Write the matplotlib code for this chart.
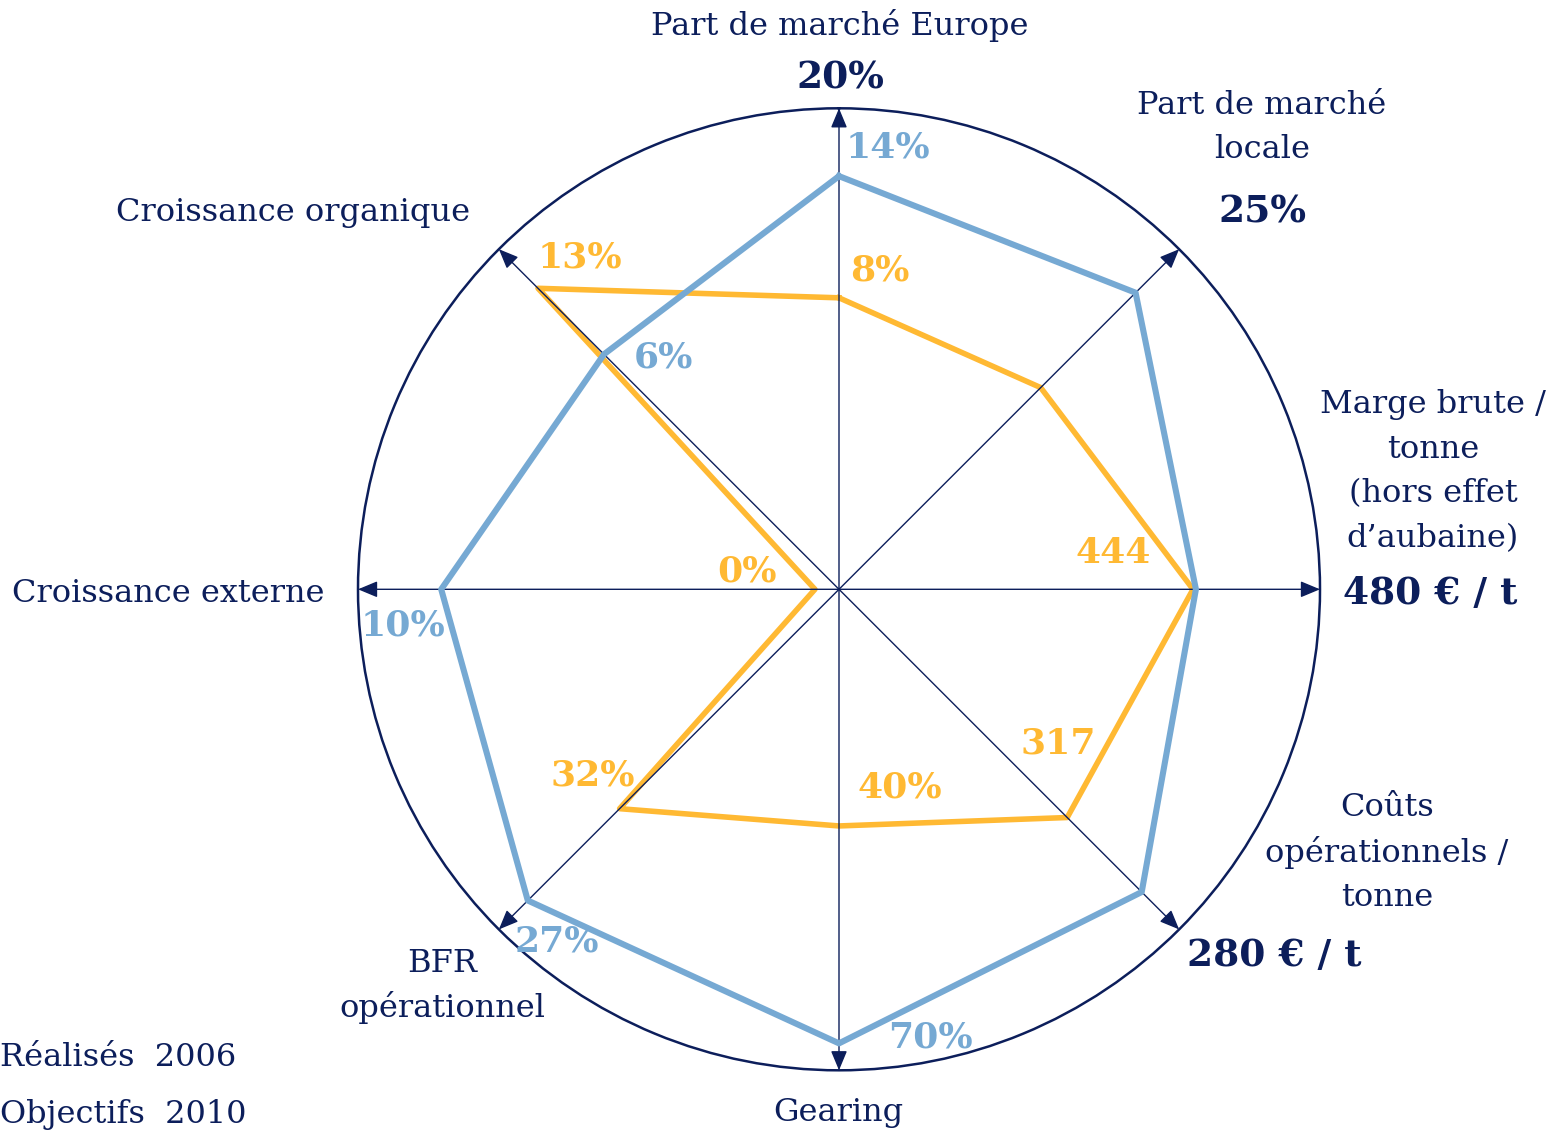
import numpy as np
import matplotlib.pyplot as plt

# axes of the radar, clockwise from the top
categories = ["Part de marché Europe", "Part de marché\nlocale",
              "Marge brute /\ntonne\n(hors effet\nd’aubaine)",
              "Coûts\nopérationnels /\ntonne", "Gearing",
              "BFR\nopérationnel", "Croissance externe", "Croissance organique"]
targets = ["20%", "25%", "480 € / t", "280 € / t", "", "", "", ""]

# position on each axis (0 = centre, 1 = outer circle)
objectifs_2010 = [0.859, 0.872, 0.742, 0.890, 0.944, 0.915, 0.827, 0.691]
realises_2006 = [0.606, 0.593, 0.736, 0.671, 0.492, 0.645, 0.050, 0.885]

objectifs_labels = ["14%", "", "", "", "70%", "27%", "10%", "6%"]
realises_labels = ["8%", "", "444", "317", "40%", "32%", "0%", "13%"]

NAVY = "#0c1e5b"
BLUE = "#76a9d3"
ORANGE = "#ffb933"
W, H = 1551, 1133

plt.rcParams['font.family'] = ['DejaVu Serif']

fig = plt.figure(figsize=(W / 100, H / 100), dpi=100)
# polar axes centred at pixel (839, 589), radius 481 px
cx, cy, R = 839, 589.3, 481
ax = fig.add_axes([(cx - R) / W, (H - cy - R) / H, 2 * R / W, 2 * R / H],
                  projection='polar')
ax.set_theta_zero_location('N')
ax.set_theta_direction(-1)
ax.set_ylim(0, 1)
ax.set_xticks([])
ax.set_yticks([])
ax.grid(False)
ax.spines['polar'].set_color(NAVY)
ax.spines['polar'].set_linewidth(1.8)
ax.patch.set_alpha(0)

theta = np.deg2rad(np.arange(len(categories)) * 45)
closed = np.append(theta, theta[0])

ax.plot(closed, realises_2006 + realises_2006[:1], color=ORANGE, lw=4.0, zorder=2)

for t in theta:
    ax.annotate('', xy=(t, 1), xytext=(t, 0), annotation_clip=False,
                arrowprops=dict(arrowstyle='-|>,head_length=0.6,head_width=0.25',
                                mutation_scale=20, color=NAVY, lw=1.0,
                                shrinkA=0, shrinkB=0), zorder=3)

ax.plot(closed, objectifs_2010 + objectifs_2010[:1], color=BLUE, lw=4.4, zorder=4)


def px(x, y):
    return x / W, 1 - y / H


# label layout in pixels (x centre, y of first line)
cat_pos = [(840, 25), (1262, 105), (1433, 405), (1387, 808), (838, 1112),
           (442, 963), (168, 593), (293, 212)]
LINE = 44.5
target_pos = [(840, 78), (1262, 212), (1430, 593), (1274, 955)]
obj_pos = [(888, 147), None, None, None, (930, 1038), (557, 941), (403, 625), (663, 358)]
real_pos = [(880, 271), None, (1113, 553), (1058, 743), (900, 787), (593, 775),
            (747, 572), (580, 257)]

for name, (x, y) in zip(categories, cat_pos):
    for i, line in enumerate(name.split('\n')):
        fig.text(*px(x, y + i * LINE), line, ha='center', va='center',
                 fontsize=23, color=NAVY)
for lab, pos in zip(targets, target_pos):
    fig.text(*px(*pos), lab, ha='center', va='center', fontsize=27,
             fontweight='bold', color=NAVY)
for lab, pos in zip(objectifs_labels, obj_pos):
    if lab:
        fig.text(*px(*pos), lab, ha='center', va='center', fontsize=26,
                 fontweight='bold', color=BLUE, zorder=5)
for lab, pos in zip(realises_labels, real_pos):
    if lab:
        fig.text(*px(*pos), lab, ha='center', va='center', fontsize=26,
                 fontweight='bold', color=ORANGE, zorder=5)

fig.text(*px(0, 1058), "Réalisés  2006", ha='left', va='center', fontsize=23, color=NAVY)
fig.text(*px(0, 1115), "Objectifs  2010", ha='left', va='center', fontsize=23, color=NAVY)

fig.savefig("out.png", dpi=100)
